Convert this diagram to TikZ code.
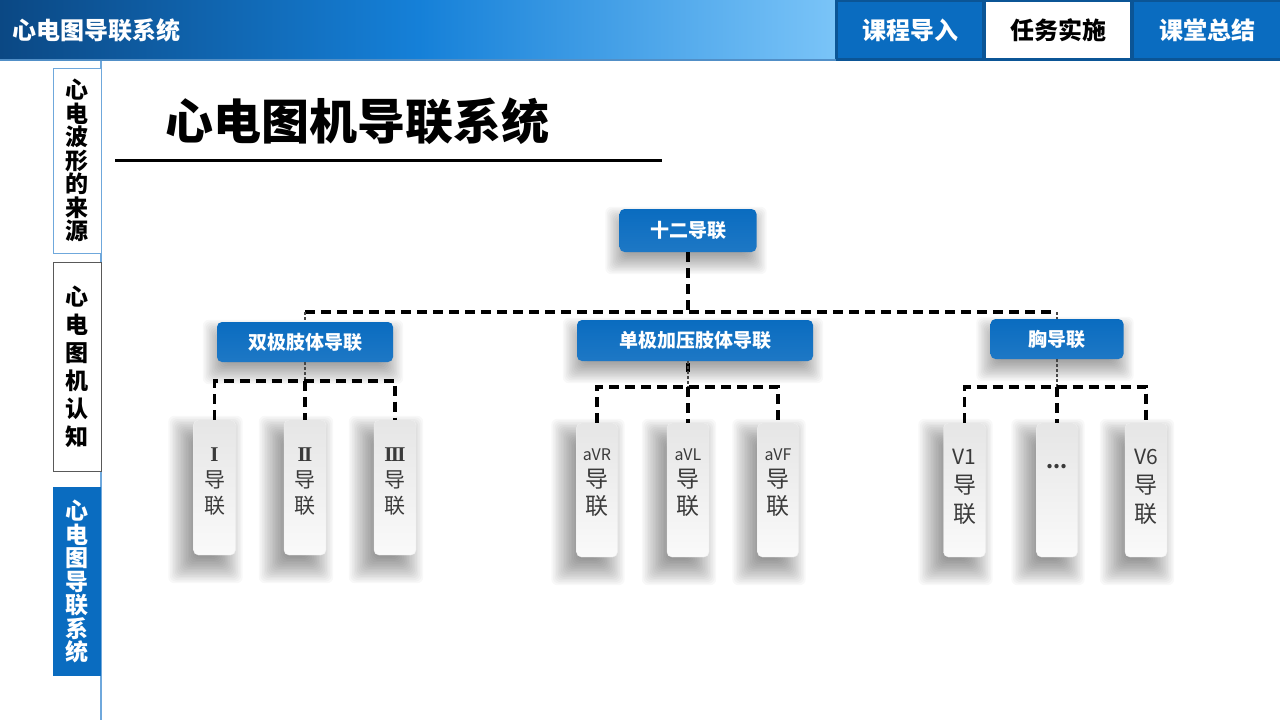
\documentclass[tikz,border=0pt]{standalone}
\usepackage{fontspec}
\setmainfont{Noto Sans CJK SC}
\newfontfamily\romanfont{Liberation Serif}
\pgfdeclarelayer{shadow}
\pgfsetlayers{shadow,main}
\definecolor{tabblue}{HTML}{0A6CC0}
\definecolor{hdrdark}{HTML}{0B4884}
\definecolor{hdrmid}{HTML}{1580D8}
\definecolor{hdrlight}{HTML}{7AC4F8}
\definecolor{barblue}{HTML}{0B5596}
\definecolor{sideline}{HTML}{6FA8DC}
\definecolor{childtext}{HTML}{3A3A3A}
\tikzset{
  bluebox/.style={rounded corners=5pt, top color=tabblue, bottom color=tabblue!92!white, text=white,
    font=\fontsize{19}{22}\selectfont\bfseries, inner sep=0pt},
  childbox/.style={rounded corners=5pt, top color=gray!20, bottom color=gray!4,
    draw=gray!12, inner sep=0pt},
  childlabel/.style={align=center, text=childtext, inner sep=0pt},
  tabtext/.style={align=center, font=\fontsize{24}{28}\selectfont\bfseries},
  sidetab/.style={minimum width=48pt, inner sep=0pt, align=center},
  link/.style={draw=black, line width=3.2pt, dash pattern=on 10pt off 6pt},
  thinlink/.style={draw=gray!55!black, line width=1.2pt, dash pattern=on 3pt off 2pt},
}
% soft shadow: node name, x offset, y offset (down), blur radius R, number of layers N
\newcommand{\softshadow}[5]{%
  \begin{pgfonlayer}{shadow}
  \foreach \i in {0,...,#5} {
    \pgfmathsetmacro{\d}{-#4+2*#4*\i/#5}
    \fill[black, opacity=0.026, rounded corners=6pt]
      ([shift={(#2-\d,#3-\d)}]#1.north west) rectangle ([shift={(#2+\d,#3+\d)}]#1.south east);
  }
  \end{pgfonlayer}}
\begin{document}
\begin{tikzpicture}[x=1pt,y=-1pt]
\useasboundingbox (0,0) rectangle (1280,720);
\begin{pgfonlayer}{shadow}
\fill[white] (0,0) rectangle (1280,720);
\end{pgfonlayer}
% header
\shade[left color=hdrdark, right color=hdrlight, middle color=hdrmid] (0,0) rectangle (836,59);
\fill[barblue] (835,0) rectangle (1280,61);
\fill[sideline!70!barblue] (0,58.5) rectangle (836,61);
\node[anchor=west, text=white, font=\fontsize{24}{26}\selectfont\bfseries] (hdr) at (9,30) {心电图导联系统};
\node[fill=tabblue, text=white, tabtext, minimum width=144pt, minimum height=56pt] (t1) at (910,30) {课程导入};
\node[fill=white, text=black, tabtext, minimum width=144pt, minimum height=56pt] (t2) at (1058,30) {任务实施};
\node[fill=tabblue, text=white, tabtext, minimum width=146pt, minimum height=56pt] (t3) at (1207,30) {课堂总结};
% side line
\draw[sideline, line width=1.5pt] (101,61) -- (101,720);
% side tabs
\node[sidetab, draw=sideline, line width=1pt, fill=white, minimum height=185pt,
  font=\fontsize{23}{23.5}\selectfont\bfseries] (s1) at (77,160.5) {心\\电\\波\\形\\的\\来\\源};
\node[sidetab, draw=gray!70!black, line width=1pt, fill=white, minimum height=209pt,
  font=\fontsize{23}{28}\selectfont\bfseries] (s2) at (77,366.5) {心\\电\\图\\机\\认\\知};
\node[sidetab, fill=tabblue, text=white, minimum height=189pt,
  font=\fontsize{23}{23.5}\selectfont\bfseries] (s3) at (77,581.5) {心\\电\\图\\导\\联\\系\\统};
% title
\node[anchor=west, font=\fontsize{48}{52}\selectfont\bfseries] (title) at (162,121) {心电图机导联系统};
\draw[line width=3pt] (115,160) -- (662,160);
% junction coordinates
\coordinate (j0) at (688,312);
\coordinate (ja) at (305,381);
\coordinate (jb) at (688,387);
\coordinate (jc) at (1057,387);
% nodes
\node[bluebox, minimum width=137pt, minimum height=43pt] (root) at (688,230.5) {十二导联};
\node[bluebox, minimum width=176pt, minimum height=40pt] (la) at (305,342) {双极肢体导联};
\node[bluebox, minimum width=236pt, minimum height=41pt] (lb) at (695,340.5) {单极加压肢体导联};
\node[bluebox, minimum width=133pt, minimum height=40pt] (lc) at (1057,339) {胸导联};
\foreach \n in {root,la,lb,lc} {\softshadow{\n}{-2}{10}{12}{16}}
\begin{scope}[childlabel/.append style={font=\fontsize{21}{26}\selectfont}]
\node[childbox, minimum width=42pt, minimum height=135pt,
  label={[childlabel, yshift=6pt]center:{{\romanfont\bfseries I}\\导\\联}}] (a1) at (214.5,487.5) {};
\node[childbox, minimum width=42pt, minimum height=135pt,
  label={[childlabel, yshift=6pt]center:{{\romanfont\bfseries I\kern-1.6pt I}\\导\\联}}] (a2) at (305,487.5) {};
\node[childbox, minimum width=42pt, minimum height=135pt,
  label={[childlabel, yshift=6pt]center:{{\romanfont\bfseries I\kern-1.6pt I\kern-1.6pt I}\\导\\联}}] (a3) at (395,487.5) {};
\end{scope}
\begin{scope}[childlabel/.append style={font=\fontsize{23}{27}\selectfont}]
\node[childbox, minimum width=41pt, minimum height=134pt,
  label={[childlabel, yshift=7pt]center:{{\fontsize{16}{20}\selectfont aVR}\\导\\联}}] (b1) at (597,490) {};
\node[childbox, minimum width=42pt, minimum height=134pt,
  label={[childlabel, yshift=7pt]center:{{\fontsize{16}{20}\selectfont aVL}\\导\\联}}] (b2) at (688,490) {};
\node[childbox, minimum width=41pt, minimum height=134pt,
  label={[childlabel, yshift=7pt]center:{{\fontsize{16}{20}\selectfont aVF}\\导\\联}}] (b3) at (778,490) {};
\end{scope}
\begin{scope}[childlabel/.append style={font=\fontsize{23}{29}\selectfont}]
\node[childbox, minimum width=42pt, minimum height=134pt,
  label={[childlabel, yshift=3pt]center:{{\fontsize{21}{24}\selectfont V1}\\导\\联}}] (c1) at (964.5,490) {};
\node[childbox, minimum width=41pt, minimum height=134pt,
  label={[childlabel, font=\fontsize{20}{24}\selectfont\bfseries, yshift=23pt]center:{...}}] (c2) at (1057,490) {};
\node[childbox, minimum width=42pt, minimum height=134pt,
  label={[childlabel, yshift=3pt]center:{{\fontsize{21}{24}\selectfont V6}\\导\\联}}] (c3) at (1146,490) {};
\end{scope}
\foreach \n in {a1,a2,a3,b1,b2,b3,c1,c2,c3} {\softshadow{\n}{-9}{12}{16}{20}}
% connectors
\draw[link] (root.south) -- (j0);
\draw[link] (la.north |- j0) -- (lc.north |- j0);
\draw[thinlink] (la.north |- j0) -- (la.north);
\draw[thinlink] (lc.north |- j0) -- (lc.north);
\draw[thinlink] (la.south -| ja) -- (ja);
\draw[link] (lb.south -| jb) ++(0,2) -- ++(0,9);
\draw[thinlink] (lb.south -| jb) -- (jb);
\draw[thinlink] (lc.south -| jc) -- (jc);
\draw[link] (a1.north) -- (a1.north |- ja) -- (a3.north |- ja) -- (a3.north);
\draw[link] (ja) -- (a2.north);
\draw[link] (b1.north) -- (b1.north |- jb) -- (b3.north |- jb) -- (b3.north);
\draw[link] (jb) -- (b2.north);
\draw[link] (c1.north) -- (c1.north |- jc) -- (c3.north |- jc) -- (c3.north);
\draw[link] (jc) -- (c2.north);
\end{tikzpicture}
\end{document}
